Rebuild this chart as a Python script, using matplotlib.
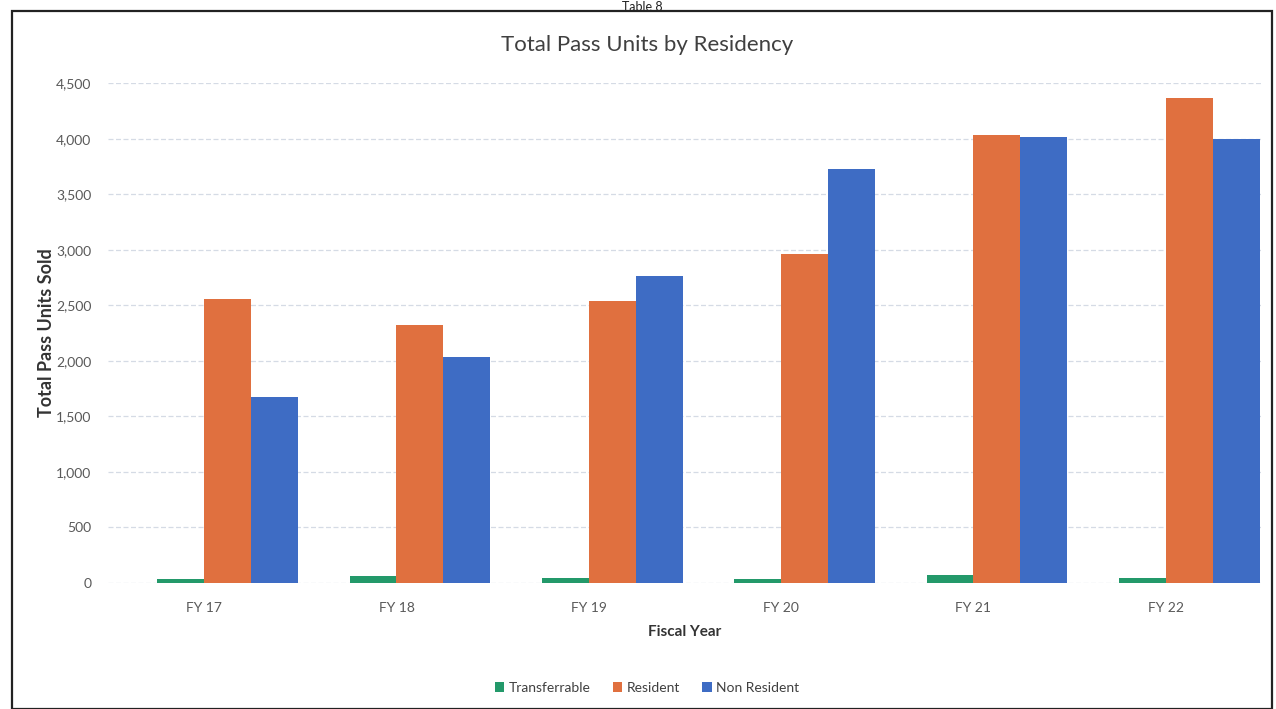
import matplotlib
matplotlib.use("Agg")
import matplotlib.pyplot as plt
from matplotlib.patches import Rectangle
from matplotlib.ticker import FuncFormatter
import numpy as np

plt.rcParams["font.family"] = ["Lato", "DejaVu Sans"]

# Units sold per fiscal year
years = ["FY 17", "FY 18", "FY 19", "FY 20", "FY 21", "FY 22"]
transferrable = [35, 60, 40, 30, 66, 45]
resident = [2556, 2322, 2538, 2959, 4033, 4364]
non_resident = [1670, 2036, 2766, 3727, 4012, 3997]

colors = {"Transferrable": "#23996a", "Resident": "#e0703f",
          "Non Resident": "#3e6cc4"}

fig = plt.figure(figsize=(12.76, 7.09), dpi=100)
fig.patch.set_facecolor("white")

# page frame around the chart
fig.add_artist(Rectangle((12 / 1276, 0.0), 1260 / 1276, 698 / 709,
                         transform=fig.transFigure, fill=False,
                         edgecolor="#222222", linewidth=1.6))
fig.text(0.503, 1 - 1 / 709, "Table 8", ha="center", va="top",
         fontsize=9, color="#222222")

ax = fig.add_axes([108 / 1276, 0.1781, 1154 / 1276, 0.7045])

x = np.arange(len(years))
w = 0.244
ax.bar(x - 0.5 * w, transferrable, w, color=colors["Transferrable"],
       label="Transferrable", zorder=3)
ax.bar(x + 0.5 * w, resident, w, color=colors["Resident"],
       label="Resident", zorder=3)
ax.bar(x + 1.5 * w, non_resident, w, color=colors["Non Resident"],
       label="Non Resident", zorder=3)

ax.set_xlim(-0.5, len(years) - 0.5)
ax.set_ylim(0, 4500)
ax.set_yticks(np.arange(0, 4501, 500))
ax.yaxis.set_major_formatter(FuncFormatter(lambda v, p: f"{int(v):,}"))
ax.set_xticks(x)
ax.set_xticklabels(years)
ax.tick_params(axis="both", length=0, labelsize=10, colors="#595959")
ax.tick_params(axis="y", pad=12)
ax.tick_params(axis="x", pad=14)

ax.grid(axis="y", color="#d5dbe5", linewidth=0.9, linestyle=(0, (4, 2)),
        zorder=0)
for s in ax.spines.values():
    s.set_visible(False)

fig.text(647 / 1276, 1 - 45 / 709, "Total Pass Units by Residency",
         ha="center", va="center", fontsize=16, color="#404040")
ax.set_ylabel("Total Pass Units Sold", fontsize=13, fontweight="bold",
              color="#333333", labelpad=1)
ax.set_xlabel("Fiscal Year", fontsize=11, fontweight="bold",
              color="#333333", labelpad=8)

ax.legend(loc="center", bbox_to_anchor=(647 / 1276, 21 / 709),
          bbox_transform=fig.transFigure, ncol=3, frameon=False,
          fontsize=10, handlelength=0.7, handleheight=0.7,
          handletextpad=0.3, columnspacing=1.6, labelcolor="#404040")

fig.savefig("out.png", dpi=100)
